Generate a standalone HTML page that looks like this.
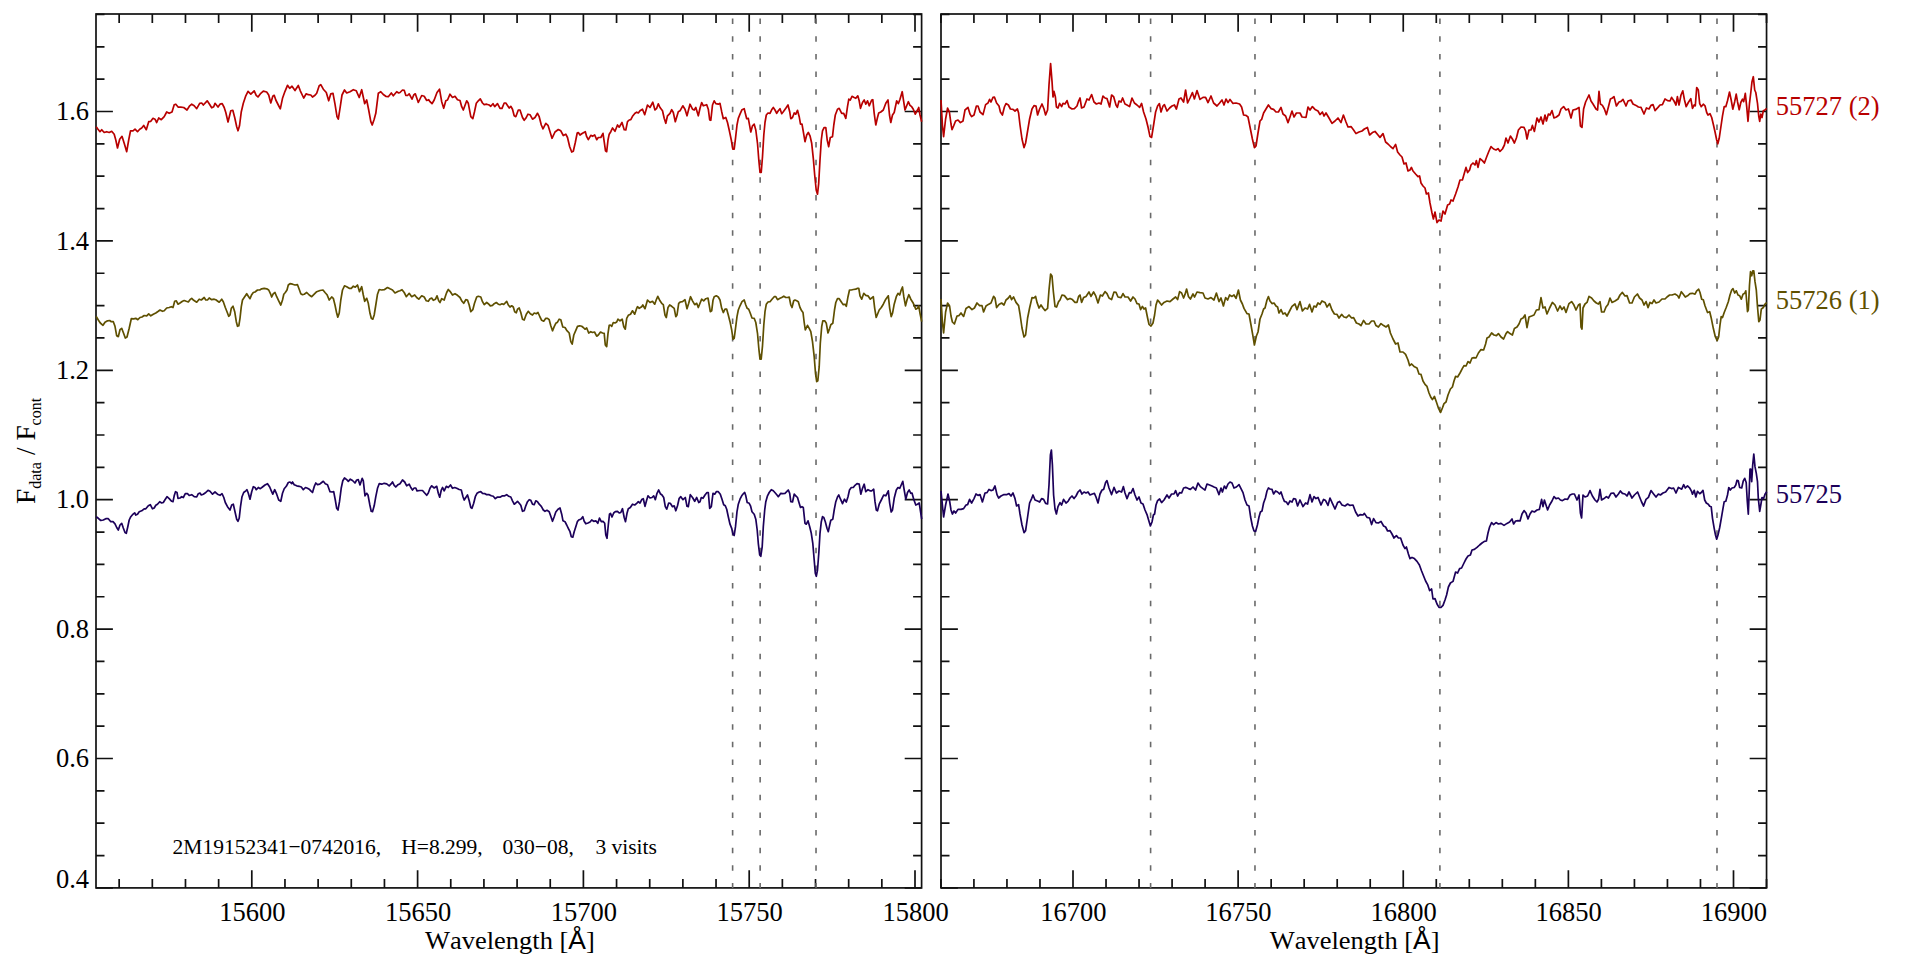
<!DOCTYPE html>
<html lang="en">
<head>
<meta charset="utf-8">
<title>Spectra</title>
<style>
html,body{margin:0;padding:0;background:#fff;}
body{width:1920px;height:960px;overflow:hidden;}
svg{display:block;}
</style>
</head>
<body>
<svg width="1920" height="960" viewBox="0 0 1920 960">
<rect width="1920" height="960" fill="#fff"/>
<g fill="none" stroke="#111" stroke-width="1.7" stroke-linecap="butt">
<rect x="96.0" y="14.0" width="825.60" height="873.90"/>
<rect x="941.0" y="14.0" width="825.55" height="873.90"/>
<path d="M119.16,887.9v-8.9M119.16,14.0v8.9M152.32,887.9v-8.9M152.32,14.0v8.9M185.48,887.9v-8.9M185.48,14.0v8.9M218.64,887.9v-8.9M218.64,14.0v8.9M251.80,887.9v-17.7M251.80,14.0v17.7M284.96,887.9v-8.9M284.96,14.0v8.9M318.12,887.9v-8.9M318.12,14.0v8.9M351.28,887.9v-8.9M351.28,14.0v8.9M384.44,887.9v-8.9M384.44,14.0v8.9M417.60,887.9v-17.7M417.60,14.0v17.7M450.76,887.9v-8.9M450.76,14.0v8.9M483.92,887.9v-8.9M483.92,14.0v8.9M517.08,887.9v-8.9M517.08,14.0v8.9M550.24,887.9v-8.9M550.24,14.0v8.9M583.40,887.9v-17.7M583.40,14.0v17.7M616.56,887.9v-8.9M616.56,14.0v8.9M649.72,887.9v-8.9M649.72,14.0v8.9M682.88,887.9v-8.9M682.88,14.0v8.9M716.04,887.9v-8.9M716.04,14.0v8.9M749.20,887.9v-17.7M749.20,14.0v17.7M782.36,887.9v-8.9M782.36,14.0v8.9M815.52,887.9v-8.9M815.52,14.0v8.9M848.68,887.9v-8.9M848.68,14.0v8.9M881.84,887.9v-8.9M881.84,14.0v8.9M915.00,887.9v-17.7M915.00,14.0v17.7M96.0,887.90h16.9M921.6,887.90h-16.9M96.0,855.55h8.5M921.6,855.55h-8.5M96.0,823.20h8.5M921.6,823.20h-8.5M96.0,790.85h8.5M921.6,790.85h-8.5M96.0,758.50h16.9M921.6,758.50h-16.9M96.0,726.15h8.5M921.6,726.15h-8.5M96.0,693.80h8.5M921.6,693.80h-8.5M96.0,661.45h8.5M921.6,661.45h-8.5M96.0,629.10h16.9M921.6,629.10h-16.9M96.0,596.75h8.5M921.6,596.75h-8.5M96.0,564.40h8.5M921.6,564.40h-8.5M96.0,532.05h8.5M921.6,532.05h-8.5M96.0,499.70h16.9M921.6,499.70h-16.9M96.0,467.35h8.5M921.6,467.35h-8.5M96.0,435.00h8.5M921.6,435.00h-8.5M96.0,402.65h8.5M921.6,402.65h-8.5M96.0,370.30h16.9M921.6,370.30h-16.9M96.0,337.95h8.5M921.6,337.95h-8.5M96.0,305.60h8.5M921.6,305.60h-8.5M96.0,273.25h8.5M921.6,273.25h-8.5M96.0,240.90h16.9M921.6,240.90h-16.9M96.0,208.55h8.5M921.6,208.55h-8.5M96.0,176.20h8.5M921.6,176.20h-8.5M96.0,143.85h8.5M921.6,143.85h-8.5M96.0,111.50h16.9M921.6,111.50h-16.9M96.0,79.15h8.5M921.6,79.15h-8.5M96.0,46.80h8.5M921.6,46.80h-8.5M96.0,14.45h8.5M921.6,14.45h-8.5M940.90,887.9v-8.9M940.90,14.0v8.9M973.92,887.9v-8.9M973.92,14.0v8.9M1006.95,887.9v-8.9M1006.95,14.0v8.9M1039.97,887.9v-8.9M1039.97,14.0v8.9M1073.00,887.9v-17.7M1073.00,14.0v17.7M1106.03,887.9v-8.9M1106.03,14.0v8.9M1139.05,887.9v-8.9M1139.05,14.0v8.9M1172.08,887.9v-8.9M1172.08,14.0v8.9M1205.10,887.9v-8.9M1205.10,14.0v8.9M1238.12,887.9v-17.7M1238.12,14.0v17.7M1271.15,887.9v-8.9M1271.15,14.0v8.9M1304.17,887.9v-8.9M1304.17,14.0v8.9M1337.20,887.9v-8.9M1337.20,14.0v8.9M1370.22,887.9v-8.9M1370.22,14.0v8.9M1403.25,887.9v-17.7M1403.25,14.0v17.7M1436.28,887.9v-8.9M1436.28,14.0v8.9M1469.30,887.9v-8.9M1469.30,14.0v8.9M1502.33,887.9v-8.9M1502.33,14.0v8.9M1535.35,887.9v-8.9M1535.35,14.0v8.9M1568.38,887.9v-17.7M1568.38,14.0v17.7M1601.40,887.9v-8.9M1601.40,14.0v8.9M1634.43,887.9v-8.9M1634.43,14.0v8.9M1667.45,887.9v-8.9M1667.45,14.0v8.9M1700.47,887.9v-8.9M1700.47,14.0v8.9M1733.50,887.9v-17.7M1733.50,14.0v17.7M1766.53,887.9v-8.9M1766.53,14.0v8.9M941.0,887.90h16.9M1766.55,887.90h-16.9M941.0,855.55h8.5M1766.55,855.55h-8.5M941.0,823.20h8.5M1766.55,823.20h-8.5M941.0,790.85h8.5M1766.55,790.85h-8.5M941.0,758.50h16.9M1766.55,758.50h-16.9M941.0,726.15h8.5M1766.55,726.15h-8.5M941.0,693.80h8.5M1766.55,693.80h-8.5M941.0,661.45h8.5M1766.55,661.45h-8.5M941.0,629.10h16.9M1766.55,629.10h-16.9M941.0,596.75h8.5M1766.55,596.75h-8.5M941.0,564.40h8.5M1766.55,564.40h-8.5M941.0,532.05h8.5M1766.55,532.05h-8.5M941.0,499.70h16.9M1766.55,499.70h-16.9M941.0,467.35h8.5M1766.55,467.35h-8.5M941.0,435.00h8.5M1766.55,435.00h-8.5M941.0,402.65h8.5M1766.55,402.65h-8.5M941.0,370.30h16.9M1766.55,370.30h-16.9M941.0,337.95h8.5M1766.55,337.95h-8.5M941.0,305.60h8.5M1766.55,305.60h-8.5M941.0,273.25h8.5M1766.55,273.25h-8.5M941.0,240.90h16.9M1766.55,240.90h-16.9M941.0,208.55h8.5M1766.55,208.55h-8.5M941.0,176.20h8.5M1766.55,176.20h-8.5M941.0,143.85h8.5M1766.55,143.85h-8.5M941.0,111.50h16.9M1766.55,111.50h-16.9M941.0,79.15h8.5M1766.55,79.15h-8.5M941.0,46.80h8.5M1766.55,46.80h-8.5M941.0,14.45h8.5M1766.55,14.45h-8.5"/>
</g>
<g stroke="#6a6a6a" stroke-width="1.6" stroke-dasharray="5.5 12.14" fill="none">
<line x1="732.62" y1="18.6" x2="732.62" y2="887.9"/>
<line x1="760.14" y1="18.6" x2="760.14" y2="887.9"/>
<line x1="816.02" y1="18.6" x2="816.02" y2="887.9"/>
<line x1="1150.61" y1="18.6" x2="1150.61" y2="887.9"/>
<line x1="1254.97" y1="18.6" x2="1254.97" y2="887.9"/>
<line x1="1439.91" y1="18.6" x2="1439.91" y2="887.9"/>
<line x1="1716.99" y1="18.6" x2="1716.99" y2="887.9"/>
</g>
<g fill="none" stroke-width="1.7" stroke-linejoin="round" stroke-linecap="butt">
<polyline points="96.2,126.7 98,129.2 100,131.7 101.7,129.7 104.2,132.5 106.7,131.7 109.2,132.5 111.7,131.3 114.2,134.2 115.8,140 117.5,148 119.7,139.2 122,136.3 124.2,143.3 126.7,151.7 128.7,140 130.5,130.8 133,130.8 135,129.2 137.5,131.7 139.7,129.2 141.7,128 143.7,125.5 146.3,129.7 148.7,121.7 150.8,121.3 153,118.3 155,119.2 156.7,122.5 158.7,118 161.3,119.7 164.2,116.7 166.7,112 169.2,113.3 172,112 174.2,104.7 175.8,104.2 178.3,107.2 180.8,107.2 183.7,107.5 187,110 189.7,105.8 191.7,104.2 194.2,105.8 196.7,108.7 199.7,103.3 201.7,103 203.3,105 207.2,100.8 209.2,103.7 211.7,107.8 213.7,106.7 215,103.3 218,107 220,104.2 222.2,103.7 224.2,107.5 225.8,112.5 228,122 230.8,110.8 232.8,110.3 234.7,117.5 236.7,126.7 238,130.8 239.5,125.8 241.3,111.7 243.3,103.3 245.8,95.8 248,91.3 250.8,94.2 254.2,90.8 256.2,95.3 258,97 260.8,93.3 263.3,91.2 266.7,92 268.7,95 270.8,103 272.8,96.3 274.2,95.3 275.8,100 278.3,105 280.3,108.8 282.5,98.3 285,91.3 287.5,85.3 289.7,88.3 292,86.2 295,90.5 298.3,85.5 300.3,90.8 303.7,98 306.2,93.8 308.3,94.7 310.8,95 312.5,97 315,95.3 316.7,93.3 319.2,85.8 320.8,84.7 323.3,89.2 326.3,92.5 328.7,100.8 330.8,93.8 333,93.3 335,104.2 337,116.7 338.3,119.2 340,108.3 342,95 344.5,90 346.7,93 350,91.7 353.3,89.7 356.3,90.8 359.2,97.5 361.7,89.7 364.7,103.7 366.7,100 368.7,110 370.8,121.7 372.2,125 374.2,119.2 375.8,113.3 378.3,93.3 380.8,91.7 383.3,94.5 385.8,96.3 388.3,96.7 391.3,93 393.3,95.8 396.7,91.7 398.7,93 400,92.5 402.5,90 404.2,90.3 405.8,95.3 407.5,95.5 409.2,93.8 412,99.2 413.7,95 415.3,93.8 418.3,102.5 421.7,95.5 424.2,96.3 426.7,100.5 428.7,99.7 430,101.7 432,103.7 434.2,100 437,92.5 439.5,89.2 441.7,101.7 443.7,108.3 445.8,100.8 447.5,100 450,94.2 452.5,97.5 455,96.3 457.5,99.7 460,100.5 461.7,106.7 463.3,110 466.7,100.8 468.3,103.3 470.8,116.7 472.8,118.7 474.5,111.7 476.3,103.3 478.3,100.8 480.3,98.8 482.5,103 484.2,104.7 486.7,104.2 489.2,105 490.8,106.3 493,103.7 494.7,106.7 497.5,103.7 500,108.3 502,108.3 504.2,103 505.8,103 509.2,108 510.8,106.3 512.5,109.2 514.2,115.8 515.8,116.7 518.3,110 520,110 522.5,117.5 524.2,120.3 525.8,118.3 528,114.2 530,114.7 532.5,119.2 535,117.5 537.5,113.3 539.2,116.7 541.3,125 543,128.8 545.8,123.3 548,125.3 550,131.7 552,138.3 555,132 558.3,129.5 560.8,130.8 563.3,135.5 565.8,134.2 567.5,137.5 569.7,146.7 571.7,152 573.3,151.3 575.3,142.5 577.2,133 578.3,132.5 580,135 582.5,133.3 585.3,131.7 586.7,136.7 588.3,139.7 590.8,135.3 592.5,136.3 594.7,135 596.7,139.7 598.3,137.5 600.8,137.5 603,133.3 604.2,141.7 605.5,150.8 606.7,151.7 608,140 609.2,134.2 610.8,131.7 612.5,128 615,131.3 617.5,125 619.2,127.2 622,122.5 624.2,129.7 625.8,130 627.5,121.7 629.2,120 630.8,119.7 632.5,116.3 635,113.3 636.7,112.2 638.3,113 640,110.8 642.5,109.2 644.7,114.7 647.5,105 650,107.5 652.8,102.2 655,110 656.7,108.3 658.3,103.8 660,107.5 662.5,110.8 664.2,118.3 665.8,123.3 667.5,115.8 670,113.3 671.7,109.7 673.3,112.5 675.3,121.7 678.3,111.7 680,110.8 682.8,105.8 685,109.2 687,115.8 690,104.2 692.5,109.2 694.2,110 695.8,107.5 698.3,115.8 700,108.3 701.7,102.5 703.3,105.8 706.7,104.7 708.3,109.2 709.7,120 710.8,120.3 712.5,105 714.2,100.8 715.8,103.7 718.3,104.2 720,103.3 721.7,111.7 723.3,118.7 725.8,117.5 727.5,122.5 729.2,130 731.3,140 732.8,149.2 734.2,149.2 735.5,138.3 737,125 738.3,118.3 740,114.2 742,109.7 744.2,108.7 745.3,113.3 746.7,118.7 748.3,118.3 749.7,125.8 750.8,132 752.5,125.8 754.2,124.2 755.8,130 757.5,143.3 758.8,160 760,172.5 761.2,172.5 762.5,156.7 763.8,135 765,122.5 766.3,115 768,113 770,113.3 772,109.2 773.3,107.5 775,110 776.7,113.3 778.3,110.8 780,108.7 781.7,113.7 783.3,111.7 785.8,108.3 788,105 789.7,111.7 790.8,118.7 792.5,117.5 794.2,113 795.8,114.2 797.5,110.3 799.2,116.7 800.5,124.2 802,124.2 803.3,131.7 805,141.7 806.7,135 808.3,132.5 810,135.8 811.7,143.3 813.3,158.3 814.7,175 816.2,190 817.5,194.2 818.7,183.3 820,160 821.3,140 822.5,130.8 824.2,127.5 825.8,127.5 827.2,140 828.7,146.7 830.3,137.5 832.5,136.7 833.8,125 835.3,115 837.5,109.2 839.2,108.3 841.7,113.3 843.7,113.3 845.8,118.3 847.5,106.7 848.8,99.2 850.3,100 852,96.3 854.2,97.5 855.8,98.3 857.8,95.8 859.2,100.8 860.5,108.3 862.5,102.5 864.2,100 865.8,104.2 867.5,100.8 869.2,105.8 871.7,100 872.8,99.7 874.2,113.3 875.8,125 877.5,117.5 878.7,113 880.8,112 883.3,110 885.8,103.3 888,100 889.5,115 890.8,122.5 892.5,115 894.2,112.5 896.7,100.8 898.3,103.7 900,99.2 902.2,91.7 903.7,101.7 905,110 906.7,105.8 908.3,101.7 910,105.3 911.7,106.7 913.3,109.2 915.3,114.2 917.5,110 918.7,107.5 920,115 921.7,121.7" stroke="#b80000"/>
<polyline points="96.2,316.3 98.3,320 100.3,323 103,325.3 105,322.2 107.5,320.8 109.7,320.5 111.3,321.7 113.3,321.7 115,326.3 116.7,335.8 118.3,336.7 120,329.7 121.7,328.3 123.3,332.5 125.3,338 127,337 129.2,328.3 131.3,318.7 133.7,318.8 135.8,318.3 137.8,319.7 140,317.5 142,317 144.2,315.5 146.7,315.8 148.7,313.8 150.8,315.8 153.3,314.2 155.8,313 158.3,311.3 160,310 162.5,311.3 164.2,310.8 166.7,308 169.2,307.5 171.3,306.7 173,307.5 174.7,301.3 176.3,300.8 178,304.2 180,303 182.5,301.3 184.2,300.5 186.3,301.3 188.3,302 190,299.7 191.7,298.3 193.7,300.3 196.7,302.2 199.2,299.2 201.3,300 204.2,297.5 205.8,300 207.5,300 209.2,298 211.7,299.7 214.2,299.2 215.8,299.7 219.2,302.2 221.7,299.2 223.3,301.7 225.3,307.5 227,311.7 228.7,316.3 230,315 231.3,308.3 233,306.2 234.7,311.7 236.3,321.7 237.5,326.3 238.8,325.8 240,318.3 241.3,306.7 242.5,300 244.2,297.5 246.7,293.7 248.3,296.3 250,298.7 251.7,294.7 253.3,292.5 255,292 257.5,290 259.7,290 261.7,288.8 264.2,288.3 266.7,288.8 268.7,290 270.3,293.3 271.7,297 273.3,293.7 275,292.5 276.7,296.7 278.7,300.8 280.8,305 282.5,300 283.8,294.2 285.3,292.5 287,290 288.3,285 290,283.7 292.5,284.2 295,285 297.5,284.7 299.2,289.2 300.8,293.7 302.5,294.7 304.2,294.2 306.7,292.5 309.2,295 311.7,296.7 314.2,294.2 316.7,291.7 320,290.5 323,290 325,292.5 327,294.7 329.2,300 331.7,297 333.3,298.3 335,305 336.7,313.3 337.8,317.2 339.2,313.3 340.8,300 342.5,290 344.5,285.8 346.7,286.7 349.2,288.3 351.3,288.3 353.3,286.2 355.3,287.2 357.5,285 359.5,291.7 361.7,286.7 363.3,295 364.7,301.3 366.7,298.3 368.3,303.3 370,313.3 371.3,318.3 372.8,319.2 374.2,315 375.8,305 377.5,294.2 379.2,289.5 381.7,290 384.2,289.7 387.5,287.5 390,288.8 392.5,290 395,293 398.3,291.3 400,290.8 402,289.7 404.2,292.5 406.3,296.7 409.2,293.3 411.7,296.7 414.7,295 416.7,297.5 418.8,299.2 421.7,295.8 424.2,297 426.3,300.8 428.3,301.3 430,298.7 431.7,298 433.3,300.3 435.5,299.2 437,295.8 438.7,300.8 440,302.5 441.7,298.7 444.2,300 445.8,295 446.7,292.5 448.3,289.5 450,291.3 452.5,295 455,293.7 457.5,295.3 460,297.5 462,301.3 463.7,303.3 465.8,299.7 467.5,300 469.2,305 470.8,311.7 472.8,309.7 474.5,303.3 476.7,297 478.3,296.3 480.8,297 482.5,301.7 484.2,304.7 486.7,302.5 488.3,303.7 490.3,305.8 492.5,305.3 494.2,303.7 496.3,302.5 498.3,304.2 500,304.7 502,303.8 503.7,304.5 506.7,301.3 508.3,305 510,307 511.7,305.8 513.3,307 514.7,311.7 516.3,312.8 517.5,309.2 519.2,308 520.8,312.5 522.5,319.2 524.2,320 526.3,314.2 528.3,311.3 530.3,313.7 532.5,315 534.2,313 536.3,313.7 538,312.5 540,317 541.7,320.3 543.7,321.2 545.8,318.3 547.5,318.3 549.2,319.7 550.8,325.8 552.5,330.8 554.2,326.7 555.8,323.3 557.5,322.2 559.2,319.2 560.8,319.7 562.8,327 565,327.5 566.7,330.3 569.2,333 570.8,341.7 572.2,344.2 573.8,335 575.8,330.3 577.5,326.3 579.7,325.8 581.7,326.3 583.3,327.5 585,329.2 586.7,328 588.7,333 590.8,331.7 592.5,332.5 594.5,332 596.7,336.2 598.3,335 600.5,332 602.5,333 604.2,333.3 605.3,345 606.7,346.7 608,333.3 609.2,325.3 610.3,325 611.7,326.3 613.3,322.5 615,323 616.7,322 618,319.2 620,320.8 622.2,319.2 623.8,326.7 625.3,329.2 626.7,318.3 628.3,315.3 630.5,314.2 632.5,310.8 634.7,314.2 636.7,308.3 637.5,306.7 639.2,308.3 641.7,306.7 642.8,305 645,308.7 647.5,300 650,302.5 652.5,301.3 654.7,304.2 656.2,300 657.8,296.3 660,300.8 662,303.7 663.3,304.7 665,315 666.3,317.5 668,307.5 669.7,305 671.7,306.3 674.2,308.3 675.8,316.7 677,315 678.7,303.3 680.3,302 682.5,301.7 685,299.7 687,308.7 688.7,303.3 690.5,296.7 692.5,300.8 694.7,304.7 696.7,303.3 698.3,307.5 700,303.3 701.7,299.2 703.7,300.8 705.8,298.7 708,298 709.2,305 710.3,311.7 711.7,310.8 713,300.3 714.2,296.7 716.3,295.8 718.3,297 720,300 721.7,308.3 723.3,312.5 725,309.2 726.7,309.2 728.3,315 730,321.7 731.7,330 733,339.2 734.2,338.3 735.5,328.3 737,316.7 738.3,310 740,305.8 742,301.7 744.2,300 745.8,305 747.2,308.3 748.7,309.2 750.3,313.3 752,318 754.2,318.3 755.8,322.5 757.5,333.3 758.8,348.3 760,359.2 761.2,359.2 762.5,345.8 763.8,325 765,311.7 766.3,304.2 768,302 770,301.7 772,299.2 774.2,296.7 775.8,296.7 777.5,299.7 780,298.3 781.7,297.5 783.8,296.2 785.8,297.5 787.5,297.5 789.2,297 790.8,305 792,307.5 793.7,300.8 795,300 796.7,300.8 798.3,301.7 800,307.5 801.7,310.8 803,312.5 804.2,322.5 805.3,330 807.5,325.3 809.2,328.3 810.8,331.7 812.5,341.7 814.2,356.7 815.5,373.3 816.7,381.7 817.8,380.8 819.2,366.7 820.3,343.3 821.7,326.7 822.8,320.8 824.7,320.8 826.3,323.3 828,333 829.7,328.3 830.8,324.7 832.8,323.3 834.5,310 835.8,302.5 837.5,298.7 839.2,298.7 841.7,302.5 843.3,304.7 845,304.2 846.3,306.3 848,296.7 849.5,290 851.3,290 853.3,289.5 855.8,289.2 857.5,288.3 858.8,288.3 860,295.8 861.7,299.2 863.8,293.3 865.8,295.3 868,295.8 870.3,299.2 873.3,296.7 874.7,308.3 876.2,317.5 877.5,314.2 879.2,310 881.3,307.5 883.3,304.2 885.8,299.2 888.3,295.8 889.7,308.3 891.2,316.7 892.5,313.3 894.2,304.2 896.3,296.7 898,293.3 899.7,295 901.2,290 902.5,287 903.8,296.7 905.5,305.8 907.2,299.2 908.8,294.7 910.8,299.2 913.3,303.3 915.8,309.2 917.5,308.3 918.7,305.8 920,313.3 921.7,321.7" stroke="#5f5000"/>
<polyline points="96.2,516.7 98.3,518.3 100.8,520.5 103.3,520 105.8,518.7 108.3,518.7 110.8,521.7 113,521.7 115,523.8 116.7,527.5 118.3,530 120,525 121.7,523.3 123.3,528 125,532.5 126.3,533.3 127.8,526.7 129.2,520 130.8,516.7 132.5,514.7 134.7,512.8 135.8,515 137.5,514.2 139.2,511.7 141.7,510.8 144.2,508.8 145.8,508.8 148.3,505.8 150.3,504.7 152.5,508.8 154.2,508 155.8,505.3 157.5,504.2 159.7,501.7 161.7,503 163.3,502.5 165,499.7 167,496.7 169.2,498.7 171.7,501.3 173,501.7 174.2,495.8 175.5,491.7 177,492.5 178,498.3 180,498 181.7,496.7 183.3,497.5 185.3,493.7 187.5,493.7 189.2,495.5 191.7,494.7 194.2,496.7 196.7,497 198.3,493.7 200,493 201.3,495 203.3,494.2 205.8,492.5 208,490.3 210,491.3 212.5,494.2 215,492 217.5,494.2 220,495.3 222,493.7 223.8,497.5 225.3,502.5 227.5,506.7 230,510 231.7,505 233.3,504.2 235,511.7 236.7,519.2 238,521.3 239.2,518.3 240.5,506.7 242,496.7 243.7,492.5 245.8,490.8 247,489.7 248.3,493.3 250,499.2 251.7,491.7 253.3,486.7 255,487.5 256.3,489.7 258.3,487.5 260.3,488.7 262.5,487 265,485 267.5,483.7 269.7,487 271.3,490.8 272.8,494.2 274.7,489.7 276.7,494.2 278.7,500 280.8,501.3 282.5,493.3 284.2,488.7 286.3,486.3 288.3,482.5 290,482 291.7,483.7 292.5,482 294.2,484.7 296.7,485.8 299.2,486.3 301.3,487 303.3,489.7 305.5,487.5 307.5,488.3 309.2,489.2 310.8,490.8 312.5,492.5 314.2,486.7 315.8,483 317.5,484.7 319.7,484.2 321.7,482.5 323.3,481.3 325.3,483.7 327.5,484.7 330,491.7 332,492 333.7,491.7 335.3,500 336.7,508.3 338,510 339.5,501.7 341.2,488.3 342.8,480.8 344.5,478 346.7,479.7 348.3,481.3 350.3,479.2 352.5,480.5 355,483 356.7,480 358.3,479.7 360,485 362.2,478.3 363.3,480.8 365,495.8 366.7,493.3 368,495 369.7,504.2 371.2,511.3 372.5,511.7 374.2,505.8 375.8,496.7 377.5,488.3 379.2,483.7 381.7,484.2 384.2,483.3 386.7,483.8 389.2,485.8 391.3,483.7 392.5,482 394.2,485.3 395.8,487 398,484.7 400,483.7 402.5,480 404.7,482 406.7,485.8 409.2,484.2 410.8,487.5 412.5,490 414.2,488 415.8,488 417,490.8 420,490.5 422.5,490.5 424.7,493 426.7,495.3 428.3,493 430,488.3 431.7,485.8 434.2,488 436.7,486.3 438.3,493.3 439.7,497.2 441.3,490 442.5,487.5 444.2,490.8 446.3,486.3 448.3,487.5 450.5,485 452.5,488.3 454.7,487.5 456.7,488.3 459.2,489.5 461.3,490 463,496.7 464.2,500 465.8,497.5 467.5,495 469.2,500.8 470.8,507.5 472,508.3 473.7,503.3 475.3,496.7 477,493.3 479.2,492 480.8,491.7 482.5,493.3 485,493.7 486.7,494.7 489.2,494.7 491.3,495.8 493.3,496.3 495.3,498.7 497.5,497 500,497.2 502.5,495.8 504.7,495.8 506.7,494.7 508.7,496.3 510.8,497 512.5,500.8 514.2,504.2 515.8,503 517.5,501.3 519.2,503.3 520.8,505.3 522.5,511.3 524.2,510.8 525.8,505.8 527.5,501.7 529.2,499.7 530.8,500.3 532.5,504.2 534.2,504.7 535.8,500.8 537.5,501.7 539.2,504.2 541.3,506.3 543.3,510 545,511.3 547,510.3 549.2,511.7 550.8,516.3 552.5,521.3 554.2,516.7 555.8,512 558,509.2 560,508 561.7,514.2 563,520.8 565,521.7 566.7,525 568.3,528.3 570,531.7 571.3,536.7 572.8,537.2 574.2,531.7 575.8,526.7 577.5,521.3 579.2,519.7 580.8,519.2 582.8,516.7 584.2,521.3 585.8,523.8 588,523 590,522 591.7,520 593.7,521.3 595.8,520.8 597.8,523.3 599.5,518 601.3,521.7 603,521.3 604.7,523.3 605.8,535 607,538.3 608.3,525 609.5,514.2 610.5,513.3 612,517 613.7,513 615.3,511.7 617.5,511.3 619.2,513 620.8,512.5 622.5,508.7 624.2,517.5 625.5,521.7 627,513.3 628.3,508.7 630.3,507.5 632.5,504.2 634.7,505 636.7,503.3 638.3,501.7 640,503 642,499.2 643.3,498.7 645,506.3 646.7,500 648,495.8 650,498 652,497.5 653.7,495.8 655.3,499.7 657,493.3 658.7,490 660.3,493.7 662,495 663.7,497.5 665.3,506.7 666.7,509.2 668.7,503 670.3,503.3 672.5,506.7 674.2,505.8 675.8,510.8 677.5,505.8 679.2,498.3 680.8,496.7 683,499.7 685.3,497.5 687,506.3 688.3,506.7 690.3,494.7 692.5,497.5 694.7,501.3 696.7,497.5 698.7,502.5 700,501.7 701.3,497.5 703,498.3 705,495 707,492.5 708.3,492.5 709.7,508.3 711.3,506.7 713,493.3 714.7,494.2 716.3,491.7 718.3,491.7 720.3,494.2 722,499.2 723.7,504.7 725.3,505.8 726.7,509.2 728.3,516.7 730,524.2 731.7,528.3 733,534.2 734.2,535.5 735.5,526.7 737,511.7 738.3,504.2 740,499.2 741.7,495.8 743.7,493.3 744.7,492.5 745.8,495.8 747.2,502.5 749.2,503.3 750.5,505.8 752,511.7 754.2,514.2 755.8,519.2 757.2,530 758.3,543.3 759.7,555 760.8,556.3 762.2,546.7 763.3,526.7 764.7,510 765.8,501.7 767.5,495.8 769.2,492.5 771.3,489.7 773.3,490.8 775.3,493 777,495 778.3,496.7 780.8,493.3 782.5,493.7 785,493.3 786.7,491.7 788.3,490 789.7,493.3 790.8,501.7 792.5,502 794.2,494.2 795.8,495.8 797.5,497.5 799.2,503.3 800.5,507.5 802,506.7 803.3,507.5 805,523.3 806.3,524.2 808,520.8 809.7,526.7 811.3,533.3 812.8,543.3 814.2,560 815.3,573.3 816.3,576.3 817.5,570 818.8,553.3 820,533.3 821.3,521.7 822.5,516.7 823.8,517.5 825.3,521.7 827,528.3 828.3,531.7 829.7,525 830.8,520.3 832.8,519.2 834.2,510 835.8,501.7 837.5,497 838.8,495 840.5,499.2 842.5,503.7 844.5,499.2 846.3,502 848,496.7 849.5,490 851.3,487.5 853.3,487.5 855,485.3 857,483.7 859.2,484.2 860.8,494.2 862.5,488.3 864.2,484.2 865.8,491.7 868,489.7 870,490.8 871.7,490.8 873.7,489.2 875,501.7 876.3,510 877.5,510.8 879.2,504.2 881.3,500 883.7,495 885.8,495.8 888.3,490.8 889.7,503.3 891.2,512 892.5,510 894.2,498.3 896.3,490 898,487.5 899.7,488.3 901.2,485 902.8,481.3 904.2,490 905.8,499.2 907.5,492.5 909.2,490 910.8,493.3 912,493 913.7,499.2 915.8,505 917.5,504.2 919.2,503 920.3,510 921.7,519.2" stroke="#1c005a"/>
<polyline points="941,100 942.4,125 943.6,136.6 945.6,119 947.6,108 949.4,112 951,124 952,129.6 953.6,126 955.6,121 958,120 960.4,122.6 963,121 965,110 968,107.4 970,114 971.6,116.6 974,115 976.4,106 978,106 980,112 983,114.6 985.6,104.6 988,103 989.6,99.4 991,102 993,97.4 994.4,97 996.6,103 999,106 1000.4,112 1002.4,115 1004.4,107 1006,103.6 1008.4,105 1010.4,109 1013,109.4 1015,111 1017.4,109 1018.6,113 1020,125 1022,139 1024,147.6 1025.6,143 1027.6,131 1029.6,119 1032,109 1034,105.6 1036,106 1037.6,115 1039.6,109 1042,104 1044,109 1045.6,115 1047.6,110 1049,85 1050.6,63.6 1052,81 1053,97 1054,91.4 1055.4,97 1056.4,107 1058,108 1059.6,103.4 1061.6,106.6 1063,103.4 1065,104 1067,100.6 1069,107 1072,109 1074.4,108.6 1077,106 1078.6,101 1080,98 1081.6,108 1084,107 1087,99 1089,100 1091.6,94.6 1094,102 1096.4,104 1099,103 1101,104 1103,96 1105,98 1107,98.6 1109.6,107 1111.6,95 1113.6,96.6 1116,105 1117.4,107.4 1119,101 1121,102 1122.6,98 1125,104 1127,105 1129.6,106.6 1132,98 1134.4,103 1137,105 1139.6,107.4 1141.6,103.4 1143.6,112 1146,119 1148,127 1150,136.6 1151.6,137.4 1153.6,125 1155.6,112 1157.6,106 1159.4,103.6 1161,112 1163,106 1164.4,104.6 1167,111 1169.6,108 1172,106 1174.4,105 1176.4,109 1179,99 1181,98 1183.6,102 1185.6,90 1187.6,103 1190,98 1192.4,92.6 1194.4,99 1197,90.6 1200,99.4 1203,97.4 1205.6,97.4 1208,102.6 1211,96 1213.6,103 1217,106 1219.6,103 1222,100 1224,105 1226,99 1228,102.6 1230,99.4 1233,103.4 1236,103 1239.6,104 1241.6,107 1243.6,115 1246,115.4 1248,117 1250,127 1252.4,139 1254.4,147.6 1256,146 1258,133 1260,121 1261.6,119.4 1263.6,113 1266,109 1268.4,105 1271,108.6 1273.6,109.4 1276,112 1278.4,112 1281,107.4 1283,114 1285.6,116 1288,122.6 1290,117 1292,111 1294,117 1296.4,113 1300,113 1302,117 1306,117.4 1308,107 1310,110 1312.4,106.6 1315,109.4 1318,111 1320,114.6 1322.4,112 1324,116 1326,113 1329,118 1332,123.4 1335,121 1338,118 1341,122.6 1343.4,115 1346,122 1348,127 1351,126.6 1353.6,130 1356,133.6 1359,132 1362,131 1364.4,129 1367.4,127.4 1369.6,135 1372.4,132.6 1375,131.4 1378,135 1380,137.4 1383,133.6 1385.6,142 1388,144 1391,147 1393,148.6 1395.6,144.4 1397.6,152 1400,155 1402,157 1404,164 1406,163 1408,171 1410,170 1411.4,167.4 1413,171 1415.6,174 1418,176.6 1419.6,176 1421,183 1423,186 1425,188 1426.4,194 1428.4,193 1430,203 1432,213 1433.4,219 1435,212 1437,222.6 1439,220 1441,221 1443,211 1445,214 1447.6,205 1449.6,204 1451,200 1453,201 1455.6,194 1458,187 1460,180 1462.4,180 1464.4,173 1466,167.4 1467.6,172.6 1469.6,170 1471,165 1473,163 1475,165 1476.4,160.6 1478,167.4 1480,158.6 1482.4,160.6 1484.4,163 1487,156 1489,151 1491,146.6 1493.6,149 1496,150 1498,148.6 1500,151.4 1502.4,149 1504.4,145 1506,138 1508,143 1510.4,136 1512.4,139 1514.4,143 1516.4,138 1518.4,130 1521,127 1524,127.4 1525.6,131 1527,139 1529,130 1531,130 1532.4,125.4 1534.4,131.4 1537,118 1539,122 1541,117 1543,124 1545,115 1546.4,121 1548.4,114 1550,115 1552,110.6 1554,118 1556.4,117 1559,115 1561,109 1563.6,106.6 1566,110 1568.4,109 1571,118 1573,110 1575.6,109.4 1579,107.4 1580.4,126 1582,127.4 1583.6,109 1585.6,102 1589,95 1591,101 1593,104 1596,109 1597.6,110 1599,91.4 1600.4,104 1602.4,105.4 1604.4,109 1606.4,114.6 1608.4,107 1610.4,99 1612.4,98 1614,96.6 1616.4,106 1619,102 1621,101.4 1623,99.4 1626,106 1628,101 1631,100 1633,104 1636,105.4 1638.4,107 1641,107.4 1644,114 1646.4,108 1649,109 1651,105.4 1653,104.6 1655,110.6 1658,107.4 1660,105 1662.4,104.6 1665,99 1667.6,100.6 1670,101 1671.6,97.4 1674,101 1676,105 1677.4,96.6 1679,105 1681,95 1682.8,90.8 1684.5,100 1686.2,106.7 1688.3,102.5 1690.8,98.7 1692.5,108.3 1694.2,105 1695.3,105.8 1696.7,87.5 1698.3,90 1699.7,103.7 1701.2,106.7 1703.3,104.2 1705,105.8 1706.7,112.5 1708,115 1710,113.7 1711.7,117.5 1713.3,124.2 1715,131.7 1716.7,140 1717.8,143.8 1719.2,138.3 1720.8,127.5 1722.5,115.8 1724.2,106.7 1725.8,106.7 1727.5,100.8 1729.5,92 1731.2,100 1732.8,109.2 1734.7,101.7 1736.2,94.2 1737.5,101.7 1739.2,109.7 1740.8,102.5 1742.5,99.2 1743.7,101.7 1745.3,93.3 1746.7,106.7 1748,121.3 1749.5,103.3 1750.8,92.5 1752,81.7 1753.3,76.7 1754.7,90 1755.8,92.5 1757.5,103.3 1758.8,116.7 1759.7,121.3 1760.8,114.2 1762,117.5 1763.3,110.8 1765,110 1766.7,108.3" stroke="#b80000"/>
<polyline points="941,299 942.4,322 943.6,333 945.6,312 947.6,303 949.6,306 951,316 952.4,322 954.4,324 957,316 959,315.6 961,313 963.6,316.4 966,308.4 969,306.6 972,309.6 974.4,308 977,303 979.6,305.6 982,305.6 983.6,312 986,306 988.4,304.4 991,303 993.6,296.4 995,298 996.6,307.6 999,304.4 1001.6,303 1004,305 1006,300 1008.4,298 1010,295.6 1011.6,299.6 1013.6,297 1016,302.4 1018.6,305.6 1020,314 1022,328 1024,337 1025.6,335 1027.6,318 1029.6,308 1032,297.6 1034,298 1035.6,296.4 1037,302.4 1039,308 1041,305 1043,308 1045,310.6 1047.6,308.4 1049,290 1050.6,274 1052,276 1053.4,292 1055,306.4 1056.6,307 1058.6,301.6 1060,300 1062,295 1064.4,295.6 1067.6,299.6 1070,298.4 1072.4,299.6 1075,302.4 1077,302.4 1078.6,296.4 1080,295 1081.6,302.4 1083.6,297.6 1086,296.4 1089,292 1091,296.4 1093.6,292 1095.6,295.6 1098,303 1100.4,295 1102.4,296 1105,291.6 1107,293.6 1109,298 1111.6,299.6 1114,292 1116,292.4 1118,297 1121,297.6 1123,293.6 1125,297 1128,297 1130.6,301 1133,297 1135,299 1137,303.6 1139,304 1140.6,309.6 1142.4,306.4 1144,309 1145.6,308 1147.6,318 1149,324.4 1151,326 1153,323 1154.6,315 1156,305 1157.6,300 1159.6,302.4 1161.6,305 1164,302.4 1167,301 1170,301.6 1173,299 1175.6,297 1177.6,299.6 1179.6,291.6 1181.6,293 1183.6,298 1185,294.4 1186.6,289 1188.4,296.4 1190.4,299 1193,294 1194.6,297 1197,292 1200,292.6 1203,293 1205,298 1208,299 1211,297.6 1214,300 1216.4,293 1219,301.6 1221,298 1223.4,306 1225.6,297.6 1227.6,300 1229.6,295 1232,296.4 1234,295 1236,298.4 1238.4,290 1240.4,300 1242.4,304 1244,308.4 1247,313.6 1249,314 1251,325 1253,336.4 1254.4,345 1256.4,336 1258,332 1260,319 1262,314 1263.6,309 1265,308 1267,300 1268.4,296.6 1270,301 1272,303.6 1274,303 1276,306 1277.6,307 1279,313 1281,309.6 1283,314 1285,313 1287,316 1289.6,311 1292,306.4 1295,304 1297,309.6 1300,301.6 1302.4,311 1305,308 1307.6,309 1309.6,304.4 1312,312 1314,306 1316,307 1318,303 1320,304.4 1322,301 1325,302.4 1327,307 1329.6,303.6 1332,310 1334.4,314 1337,314.4 1339,318 1341.6,314.4 1344,317 1346.4,317.6 1349,315 1351.6,318 1353.6,317.6 1356.4,323 1359,324 1361,325.6 1363.6,320.4 1366,324 1369,324 1371.6,321 1374,321 1376,325.6 1378.4,327 1381,323.6 1383.6,325.6 1386,327 1388.4,325 1390.4,333 1393,339 1395.6,344 1398,343 1400,352 1403,352 1405.6,354.4 1408,360 1409.6,365.6 1411.6,364 1414,366.4 1417,368 1419,374 1421,374.4 1423,381 1425,384.4 1427,386.4 1429,393 1431,397.6 1432.4,399.6 1434.4,396.4 1436.4,402 1438.4,408 1440.6,412.4 1442.4,408 1444,403.6 1446,402 1448,395 1450.4,389 1452.4,387 1454,381 1455.6,376.4 1457.6,377 1460,373 1462.4,368.4 1464,365.6 1466,366 1468,361.6 1470,363 1472,358 1474,357.6 1476,358 1478.4,353 1481,349.6 1483.6,350 1485.6,344 1487,338 1489,337 1491.6,333 1494,335 1496.4,335.6 1498.4,333.6 1501,337 1503.6,339 1506,333.6 1507.6,331.6 1510,333.6 1512.4,335 1514.4,328.4 1517,327 1519,324 1521,319 1523,318 1525,315 1527,327.6 1529,317 1531.6,316 1534,315 1536.4,310 1539,309.6 1541,297.6 1543,308 1545,307 1547,314 1549.6,308 1552.4,302.4 1555,305 1557.6,311 1560,306 1562,309.6 1564,307 1566,312.4 1569,303.6 1571.6,301.6 1573.6,304.4 1576,310 1578.4,305 1580,304 1581,327 1582,329 1583,308 1585,304 1587,302.4 1589,296.4 1591.6,298 1594,301 1596.4,303 1598.4,304 1600,301.6 1601.6,312 1604,312 1606,307 1608,304.4 1610,298 1612,302.4 1615,301 1618,299 1620,295 1622.4,292.4 1625,296 1627,295.6 1629.6,303 1632,303 1634.4,297 1637.4,294 1639.6,298 1642,300 1644,305 1646,301.6 1648,307.6 1650,302.4 1652,303.6 1654,300 1656,303 1659,302 1662,299 1665,299 1667,297 1669.6,295 1672,295 1675,294 1677.6,295.6 1679,298 1681.3,291.7 1683.3,294.2 1685.3,297 1687.5,295.8 1690,293.7 1692.5,293.3 1695,294.2 1696.7,290.8 1698.7,289.2 1700,292.5 1701.7,299.2 1703.3,299.7 1705,305.8 1707.5,312.5 1709.7,311.7 1711.3,318.3 1713.3,328.3 1715.3,336.7 1717.2,340.5 1718.7,336.7 1720,325 1721.2,316.7 1722.5,317.5 1724.2,312.5 1726.2,307.5 1728.3,301.7 1730,295 1731.7,290 1733,288.7 1734.7,293 1736.3,290.8 1738,295 1739.7,295.8 1741.3,299.2 1743,294.2 1744.7,293.3 1745.8,290.8 1747.5,311.7 1748.3,310 1749.5,285 1750.5,271.7 1751.7,275.8 1752.8,270.8 1753.8,270.8 1755,281.7 1756.3,290 1757.5,306.7 1758.8,321.7 1760,320 1761.3,309.2 1763.3,307.5 1765,304.2 1766.7,302.5" stroke="#5f5000"/>
<polyline points="941,491 942.4,505 943.6,517 945.6,505 948,494 949.6,501 951,510 952.4,514 954,511 955.6,513 958,509.4 961,509.4 963.6,508.6 966,505 967.6,504.6 969.6,499.4 971.6,503 974,498.6 976,494 978,495.4 980,494.6 982.4,502 985,493 987,492.6 989,489.4 991,490.6 993,490 995,486 997,494.6 998.6,498 1001,496 1004,494.6 1007,494.6 1009,493.6 1011,496 1013,493 1015,498.6 1016.6,506 1018.6,504.6 1020,514 1022,525 1024,532.6 1025.6,530.6 1027.6,517 1029.6,503 1031.6,498.6 1033,495 1035,500 1037.6,501 1039.6,502 1041.6,498.6 1043.6,499.4 1045.6,503.4 1047.6,504 1049,485 1050.4,455 1051.4,450 1052.4,465 1053.6,495 1055,509 1056.4,514 1058,506.6 1060,502.6 1061.6,505 1063.6,499.4 1066,503 1068,501.4 1070,498 1072,496 1074,498.6 1076,496 1078,492 1080,490 1082,494 1084,492 1086,493 1088,492 1090,495 1092.4,494 1094.4,493.4 1096,497 1098,503 1100,494 1102,490 1103.6,489.4 1105.6,482.6 1107,480.6 1109,488 1111.6,494.6 1114,487.4 1116.4,493 1119,491 1121.6,492 1123.4,486.6 1125,493 1127,498.6 1129.4,492.6 1131,493 1133,488.6 1135,495 1137,500 1139,497 1141,503 1143,504 1145,510 1147,514.6 1148.6,520 1150.4,526 1152,522 1153.4,515 1154.6,514 1156,505 1157.6,500.6 1159.6,499 1161.6,502.6 1164,500 1167,495 1169,498 1171.6,494 1174,494 1175.6,490.6 1177.6,496 1179.6,492.6 1181.6,493 1183.6,488 1186,487.4 1188.4,488.6 1190.4,489.4 1193,487 1195.6,490 1198,483 1200.4,486.6 1203,488.6 1205,490 1207,484 1209.6,485 1212,486 1214,487 1216.4,488 1219,494.6 1221,488 1222.4,492 1224.4,486 1226,488.6 1228,484 1230,482 1232,483 1234,488 1236.4,487 1239,484.6 1241,488.6 1243,492.6 1245,500 1247,505 1249,506 1250.6,517 1252.4,526 1254,531 1255.6,531.4 1257.4,525 1259,517 1260.4,512 1262,511 1263.6,503 1265.4,498 1267,491 1268.4,488 1270,489 1272,489.4 1273.6,494 1275.6,491 1277.6,492 1279.6,494 1281,492 1283,498 1284.4,501.4 1286.4,502 1288,504.6 1290,501 1292,502 1293.6,498.6 1295.6,499 1297.6,506 1300,500 1303,506.6 1305.6,503 1307.6,504 1310,494.6 1312,502 1314,496.6 1316,498.6 1318,497.4 1321,505 1323.6,499.4 1325.6,500.6 1328,505.4 1330,498 1332.4,503.4 1335,509 1337.6,502.6 1339.6,501.4 1342,505 1345,506 1347.6,504 1350,505.4 1353,505 1355.6,512 1358,516 1360.4,514.6 1363,515 1364.4,513.4 1367,517.4 1369.6,518 1371.6,524.6 1373.6,518.6 1376,522.6 1378.4,523 1381,521.4 1383.6,526 1385.6,527 1387.6,531 1390,530.6 1392,534 1394,538 1396.4,535.6 1398.4,538 1400.6,538 1403,545 1405,548.6 1406.4,547 1408.4,554 1410,558.6 1412,557.4 1414.4,558.6 1417,561.4 1419.4,565 1421.6,571 1423.6,576 1425.6,581 1427.6,584.6 1429.6,590.6 1431.6,589 1433,599 1435,598.6 1437,604 1439,607.4 1441,607.4 1443,605.4 1445,600 1446.6,595 1448.4,587 1450.4,583 1453,581.4 1455.6,572 1457.6,573 1459.6,568.6 1461.6,568 1464,563 1466,559 1468,556 1470.4,555 1472,550 1474.4,549.4 1477,547.4 1479.6,545 1482,543 1484.4,541.4 1486.4,541 1488,533 1489.6,527 1491.6,522.6 1493.6,524.6 1496,522.6 1498.4,524 1501,523.4 1504,525.4 1507,523.4 1509.6,522 1512,519 1513.6,524 1515.6,521 1518,520.6 1520,521 1522,514 1524,510.6 1526,513 1528,519 1530,514 1532,511 1534.4,512 1537,510 1539.4,509.4 1541.6,499.4 1543,506.6 1544.4,500 1546,505 1547.6,510 1549.6,505 1552,501 1554,496.6 1556,498.6 1558.4,498 1560.4,500 1562.4,500.6 1565,499 1567.6,499.4 1570,495 1572.4,494 1574.4,494 1577,500 1579,495 1580.4,513 1581.6,518 1583,495 1585,497 1587.6,496 1590,490.6 1592.4,496 1595,500 1597,502 1598.6,499 1600,489.4 1601.6,500 1604,498.6 1606.4,496.6 1608.4,498 1611,493.4 1613.6,493 1616,497 1618.4,494 1620.4,491 1622.4,493.4 1625,494 1627,496 1629,492 1632,498 1634.4,495 1637.6,492 1639.6,497 1641.6,502 1643.6,506 1646,499.4 1648.4,497.4 1651,490.6 1653.6,494 1656,497 1658.4,494 1660.4,495 1663,493 1665.6,492 1669,487.4 1671.6,488.6 1673.6,488 1676,493 1678.4,487.4 1680,488.3 1681.7,489.2 1683.7,484.7 1685.3,488 1687.5,485.8 1689.7,488 1691.3,490.8 1692.5,494.2 1694.2,490.3 1695.8,497 1697.5,491.3 1699.7,493.7 1701.3,492.5 1703,490.3 1704.7,500 1706.3,503 1708.3,504.2 1709.7,506.3 1711.2,506.7 1712.5,518.3 1714.2,528.3 1715.5,535 1716.7,539.2 1718,535 1719.7,527.5 1721.3,518.3 1723,508.3 1724.2,501.7 1725.8,501.3 1727.5,495 1728.8,487.5 1730.3,490 1732,488 1734.2,487.5 1735.8,485 1737,480.3 1738.3,480.8 1739.7,487.5 1741.7,488 1743.3,480.8 1744.7,478.3 1746.2,482.5 1747.2,500 1748.3,514.2 1749.2,491.7 1750,469.2 1750.8,469.2 1751.7,481.7 1752.7,465 1753.8,454.2 1755,466.7 1756.3,473.3 1757.5,481.7 1758.3,498.3 1759.7,511.3 1760.8,505 1762,497.5 1763.7,498.3 1765,494.2 1766.7,491.7" stroke="#1c005a"/>
</g>
<g font-family="'Liberation Serif', serif" font-size="26.5" fill="#000" style="font-kerning:none">
<text x="89" y="887.9" text-anchor="end">0.4</text>
<text x="89" y="767.2" text-anchor="end">0.6</text>
<text x="89" y="637.8" text-anchor="end">0.8</text>
<text x="89" y="508.4" text-anchor="end">1.0</text>
<text x="89" y="379.0" text-anchor="end">1.2</text>
<text x="89" y="249.6" text-anchor="end">1.4</text>
<text x="89" y="120.2" text-anchor="end">1.6</text>
<text x="252.3" y="920.6" text-anchor="middle">15600</text>
<text x="418.1" y="920.6" text-anchor="middle">15650</text>
<text x="583.9" y="920.6" text-anchor="middle">15700</text>
<text x="749.7" y="920.6" text-anchor="middle">15750</text>
<text x="915.5" y="920.6" text-anchor="middle">15800</text>
<text x="1073.3" y="920.6" text-anchor="middle">16700</text>
<text x="1238.4" y="920.6" text-anchor="middle">16750</text>
<text x="1403.5" y="920.6" text-anchor="middle">16800</text>
<text x="1568.7" y="920.6" text-anchor="middle">16850</text>
<text x="1733.8" y="920.6" text-anchor="middle">16900</text>
<text x="425" y="948.8" font-size="25.2" textLength="169.8" lengthAdjust="spacingAndGlyphs">Wavelength [<tspan font-family="'Liberation Sans', sans-serif">Å</tspan>]</text>
<text x="1269.8" y="948.8" font-size="25.2" textLength="169.8" lengthAdjust="spacingAndGlyphs">Wavelength [<tspan font-family="'Liberation Sans', sans-serif">Å</tspan>]</text>
<text transform="translate(35.2,504.0) rotate(-90)" font-size="27.4">F<tspan font-size="16.0" dy="6.1">data</tspan><tspan dy="-6.1" dx="0.2"> / F</tspan><tspan font-size="16.0" dy="6.1">cont</tspan></text>
<text x="1775.8" y="115" fill="#b80000">55727 (2)</text>
<text x="1775.8" y="309" fill="#5f5000">55726 (1)</text>
<text x="1775.8" y="503" fill="#1c005a">55725</text>
<g font-size="21.5">
<text x="172.6" y="853.7">2M19152341−0742016,</text>
<text x="401.3" y="853.7">H=8.299,</text>
<text x="502.6" y="853.7">030−08,</text>
<text x="595.4" y="853.7">3 visits</text>
</g>
</g>
</svg>
</body>
</html>
